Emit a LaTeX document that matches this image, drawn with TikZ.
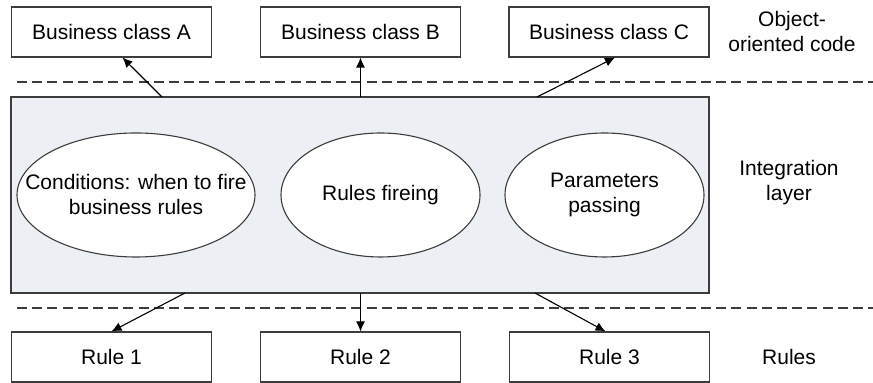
\documentclass[tikz,border=0pt]{standalone}
\usepackage{fontspec}
\setmainfont{Liberation Sans}
\usetikzlibrary{arrows.meta,shapes.geometric}
\definecolor{layerfill}{RGB}{236,240,245}
\definecolor{linegray}{RGB}{60,60,60}
\tikzset{
  classbox/.style={draw=linegray,line width=0.55pt,fill=white,minimum width=100pt,minimum height=25pt,inner sep=0pt},
  partell/.style={draw=linegray,line width=0.55pt,fill=white,ellipse,minimum height=62pt,inner sep=0pt},
  tag/.style={align=center},
  flow/.style={line width=0.55pt,-{Latex[length=5pt,width=4.5pt]}},
  sep/.style={draw=linegray,line width=0.55pt,dash pattern=on 5pt off 2.6pt}
}
\begin{document}
\begin{tikzpicture}[x=0.5pt,y=-0.5pt,font=\fontsize{10.5}{12.5}\selectfont]
\useasboundingbox (0,0) rectangle (873,383);
% object-oriented code
\node[classbox] (A) at (111.5,32) {Business class A};
\node[classbox] (B) at (360.5,32) {Business class B};
\node[classbox] (C) at (609,32) {Business class C};
\node[tag] (oo) at (792,32) {Object-\\oriented code};
\draw[sep] (17,82) -- (873,82);
% integration layer
\draw[draw=linegray,line width=0.55pt,fill=layerfill] (11,97) rectangle (709,293);
\node[partell,minimum width=119pt] (cond) at (136,195) {};
\node[tag] (condtxt) at (cond.center) {Conditions: when to fire\\business rules};
\node[partell,minimum width=99.5pt] (fire) at (380.5,195) {};
\node[tag] (firetxt) at (fire.center) {Rules fireing};
\node[partell,minimum width=99.5pt] (pass) at (604.5,195) {};
\node[tag] (passtxt) at (pass.center) {Parameters\\passing};
\node[tag] (il) at (789,183) {Integration\\layer};
\draw[sep] (17,308) -- (873,308);
% rules
\node[classbox] (r1) at (111.5,357) {Rule 1};
\node[classbox] (r2) at (360.5,357) {Rule 2};
\node[classbox] (r3) at (609.5,357) {Rule 3};
\node[tag] (rl) at (789,357) {Rules};
% arrows
\coordinate (ta) at (162,97);
\coordinate (tb) at (360.5,97);
\coordinate (tc) at (537,97);
\coordinate (ba) at (185,293);
\coordinate (bb) at (360.5,293);
\coordinate (bc) at (535,293);
\draw[flow] (ta) -- ([xshift=5.5pt]A.south);
\draw[flow] (tb) -- (B.south);
\draw[flow] (tc) -- ([xshift=3pt]C.south);
\draw[flow] (ba) -- (r1.north);
\draw[flow] (bb) -- (r2.north);
\draw[flow] (bc) -- ([xshift=-2pt]r3.north);
\end{tikzpicture}
\end{document}
